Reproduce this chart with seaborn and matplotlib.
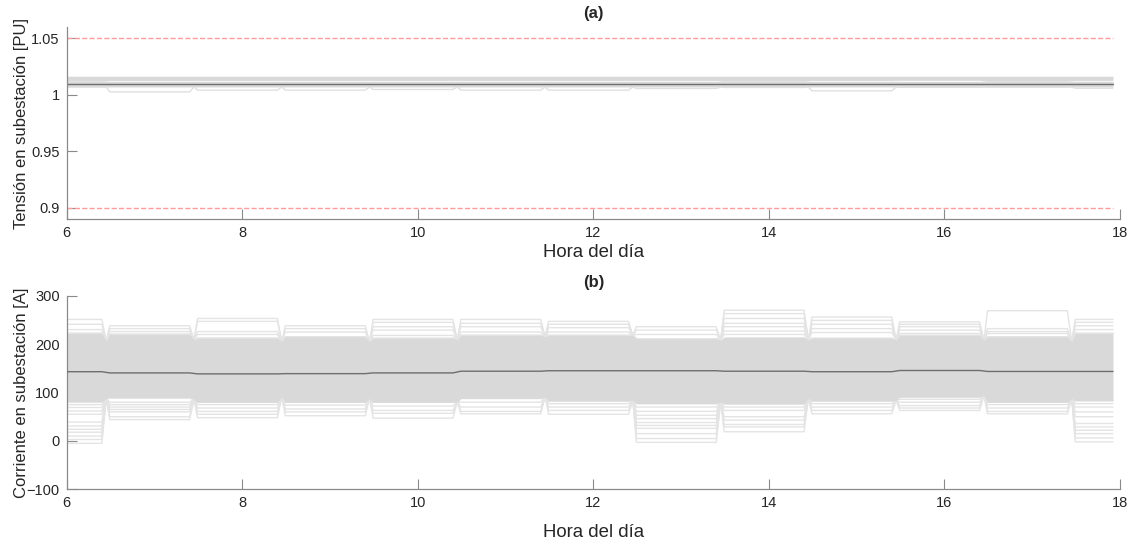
import numpy as np
import pandas as pd
import matplotlib
matplotlib.use("Agg")
import matplotlib.pyplot as plt
import seaborn as sns

# ---------------- data ----------------
HOURS = [6, 7, 8, 9, 10, 11, 12, 13, 14, 15, 16, 17, 18]   # hourly blocks
T_START, T_END = 6.0, 17.92                                 # time span of the series

# Current [A]
I_MEAN = [143, 140.5, 138.5, 139, 140.5, 144, 145, 145, 144, 143, 145.5, 143.5, 143.5]
I_CORE_HI = [222, 220, 212, 215, 212, 218, 218, 211, 215, 212, 218, 215, 222]
I_CORE_LO = [80, 90, 80, 80, 80, 88, 83, 77, 77, 83, 91, 80, 83]
I_NOTCH_HI = [206, 209, 205, 205, 208, 215, 218, 208, 208, 208, 208, 205]
I_NOTCH_LO = [88, 86, 91, 88, 81, 91, 84, 81, 88, 84, 94, 88]
I_UPPER = [
    [251, 241, 230],
    [238, 232, 226],
    [253, 247, 226, 220],
    [238, 232, 225],
    [251, 245, 236, 229, 218],
    [251, 243, 236, 225],
    [247, 241, 234, 225],
    [236, 229, 220],
    [270, 263, 253, 243, 236, 227, 220],
    [256, 249, 241, 232, 224],
    [246, 241, 236, 229, 222],
    [269, 232, 226, 222],
    [251, 245, 238, 230],
]
I_LOWER = [
    [75, 69, 62, 55, 39, 31, 24, 18, 10, 3, -5],
    [88, 80, 75, 70, 65, 60, 50, 44],
    [75, 68, 61, 55, 48],
    [74, 66, 60, 52],
    [72, 63, 57, 47],
    [80, 70, 61, 56],
    [77, 70, 63, 55],
    [70, 61, 53, 46, 38, 32, 26, 15, 5, -3],
    [70, 63, 50, 43, 34, 29, 19],
    [77, 70, 63, 56],
    [86, 80, 73, 68, 63],
    [75, 68, 61, 56],
    [77, 70, 60, 50, 36, 29, 22, 15, 6, -2],
]

# Voltage [PU]
V_MEAN = [1.0093] * 13
V_CORE_HI = [1.0163] * 13
V_CORE_LO = [1.0068] * 13
V_GAP_HI = [1.0120, 1.0126, 1.0126, 1.0126, 1.0126, 1.0126, 1.0126, 1.0126, 1.0120, 1.0126, 1.0127, 1.0120, 1.0126]
V_GAP_LO = [1.0120, 1.0119, 1.0119, 1.0119, 1.0119, 1.0119, 1.0119, 1.0119, 1.0120, 1.0119, 1.0118, 1.0120, 1.0119]
V_LOWER = [
    [1.0068], [1.0025], [1.0040], [1.0040], [1.0046], [1.0040], [1.0040],
    [1.0055], [1.0064], [1.0034], [1.0066], [1.0066], [1.0057],
]
V_LIMITS = [1.05, 0.90]

# ---------------- helpers ----------------
SEG_PRE, SEG_POST, NOTCH_AT = 0.51, 0.40, 0.45


def seg_span(h):
    return max(T_START, h - SEG_PRE), min(T_END, h + SEG_POST)


def block_path(values, notches=None):
    xs, ys = [], []
    for i, h in enumerate(HOURS):
        a, b = seg_span(h)
        xs += [a, b]
        ys += [values[i], values[i]]
        if notches is not None and i < len(HOURS) - 1:
            xs.append(h + NOTCH_AT)
            ys.append(notches[i])
    return np.array(xs), np.array(ys)


def ragged_lines(groups, fallback, notches):
    n = max(len(g) for g in groups)
    frames = []
    for k in range(n):
        vals = [g[k] if k < len(g) else fallback[i] for i, g in enumerate(groups)]
        x, y = block_path(vals, notches)
        frames.append(pd.DataFrame({"t": x, "v": y, "line": k}))
    return pd.concat(frames, ignore_index=True)


# ---------------- style ----------------
sns.set_theme(style="white")
plt.rcParams["font.family"] = ["Liberation Sans", "DejaVu Sans"]
plt.rcParams.update({
    "xtick.bottom": True, "ytick.left": True,
    "xtick.direction": "in", "ytick.direction": "in",
    "xtick.major.size": 7, "ytick.major.size": 7,
    "xtick.major.width": 0.8, "ytick.major.width": 0.8,
    "xtick.color": "#8a8a8a", "ytick.color": "#8a8a8a",
    "xtick.labelcolor": "#262626", "ytick.labelcolor": "#262626",
    "xtick.labelsize": 10.5, "ytick.labelsize": 10.5,
    "xtick.major.pad": 5, "ytick.major.pad": 5,
    "axes.edgecolor": "#8a8a8a", "axes.linewidth": 0.9,
})

CORE = "#d9d9d9"
LINE = "#e4e4e4"
MEAN_C = "#6e6e6e"

fig = plt.figure(figsize=(11.35, 5.42), dpi=100)
ax1 = fig.add_axes([0.0588, 0.5954, 0.9280, 0.3553])
ax2 = fig.add_axes([0.0588, 0.0972, 0.9280, 0.3572])

# ---- (a) voltage ----
x, hi = block_path(V_CORE_HI)
_, ghi = block_path(V_GAP_HI)
_, glo = block_path(V_GAP_LO)
_, lo = block_path(V_CORE_LO)
ax1.fill_between(x, ghi, hi, color=CORE, lw=0)
ax1.fill_between(x, lo, glo, color=CORE, lw=0)
vl = ragged_lines(V_LOWER, V_CORE_LO, V_CORE_LO[:-1])
sns.lineplot(data=vl, x="t", y="v", units="line", estimator=None, sort=False,
             color="#e0e0e0", lw=1.0, ax=ax1, legend=False)
xm, ym = block_path(V_MEAN)
sns.lineplot(x=xm, y=ym, sort=False, color=MEAN_C, lw=1.0, ax=ax1)
for lim in V_LIMITS:
    sns.lineplot(x=[T_START, T_END], y=[lim, lim], color="#ff9c9c", lw=1.0,
                 linestyle="--", ax=ax1)

ax1.set_xlim(6, 18)
ax1.set_ylim(0.89, 1.06)
ax1.set_yticks([0.9, 0.95, 1.0, 1.05])
ax1.set_yticklabels(["0.9", "0.95", "1", "1.05"])
ax1.set_xticks(range(6, 19, 2))
ax1.set_xlabel("Hora del día", fontsize=13.4, color="#262626", labelpad=3)
ax1.set_ylabel("Tensión en subestación [PU]", fontsize=12, color="#262626")
ax1.yaxis.set_label_coords(-0.036, 0.5)
ax1.set_title("(a)", fontsize=12, fontweight="bold", pad=6)

# ---- (b) current ----
x, hi = block_path(I_CORE_HI, I_NOTCH_HI)
_, lo = block_path(I_CORE_LO, I_NOTCH_LO)
up = ragged_lines(I_UPPER, I_CORE_HI, I_NOTCH_HI)
dn = ragged_lines(I_LOWER, I_CORE_LO, I_NOTCH_LO)
for df in (up, dn):
    sns.lineplot(data=df, x="t", y="v", units="line", estimator=None, sort=False,
                 color=LINE, lw=1.0, ax=ax2, legend=False)
ax2.fill_between(x, lo, hi, color=CORE, lw=0, zorder=2.1)
xm, ym = block_path(I_MEAN)
sns.lineplot(x=xm, y=ym, sort=False, color=MEAN_C, lw=1.0, ax=ax2, zorder=3)

ax2.set_xlim(6, 18)
ax2.set_ylim(-100, 300)
ax2.set_yticks(range(-100, 301, 100))
ax2.set_xticks(range(6, 19, 2))
ax2.set_xlabel("Hora del día", fontsize=13.4, color="#262626", labelpad=10)
ax2.set_ylabel("Corriente en subestación [A]", fontsize=12, color="#262626")
ax2.yaxis.set_label_coords(-0.036, 0.5)
ax2.set_title("(b)", fontsize=12, fontweight="bold", pad=6)

for ax in (ax1, ax2):
    sns.despine(ax=ax)
    ax.set_facecolor("white")
    ax.tick_params(which="both", top=False, right=False)

fig.savefig("out.png", dpi=100, facecolor="white")
